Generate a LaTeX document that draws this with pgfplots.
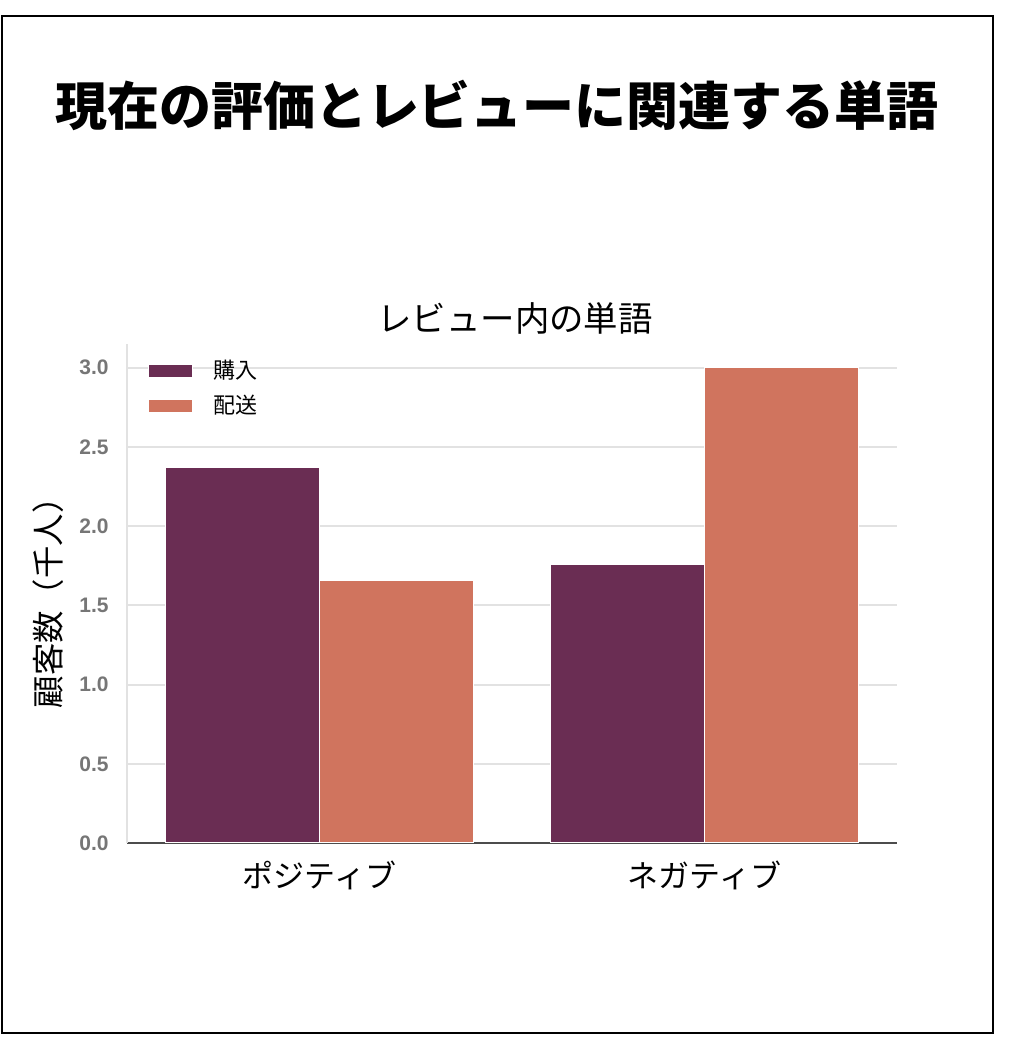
\documentclass[border=0pt]{standalone}
\usepackage{fontspec}
\usepackage{pgfplots}
\pgfplotsset{compat=1.18}
\setmainfont{Noto Sans CJK JP}
\newfontfamily\tickfont{Liberation Sans}
\definecolor{purp}{HTML}{6A2D53}
\definecolor{oran}{HTML}{D0745E}
\definecolor{gridc}{HTML}{E2E2E2}
\definecolor{tickc}{HTML}{767676}
\begin{document}
\begin{tikzpicture}
\useasboundingbox (0,0) rectangle (504pt,528pt);
\draw[line width=1pt] (1pt,520pt) rectangle (496.5pt,11.5pt);
\node[font=\fontsize{26}{30}\selectfont\bfseries] at (248.5pt,475.5pt) {現在の評価とレビューに関連する単語};
\node[font=\fontsize{17.2}{20}\selectfont] at (257.5pt,369pt) {レビュー内の単語};
\node[font=\fontsize{16.2}{18}\selectfont, rotate=90] at (24pt,230.5pt) {顧客数（千人）};
\begin{axis}[
  at={(63.5pt,106.5pt)}, anchor=south west,
  scale only axis, width=385pt, height=249.5pt,
  xmin=-0.5, xmax=1.5, ymin=0, ymax=3.15,
  axis x line*=bottom, axis y line*=left,
  x axis line style={draw=black!70, line width=1pt},
  y axis line style={draw=gridc, line width=1pt},
  major tick length=0pt,
  xtick={0,1}, xticklabels={ポジティブ,ネガティブ},
  ytick={0,0.5,1.0,1.5,2.0,2.5,3.0},
  ymajorgrids, grid style={gridc, line width=1pt},
  /pgf/number format/assume math mode=true,
  /pgf/number format/.cd, fixed, fixed zerofill, precision=1, /pgfplots/.cd,
  yticklabel style={font=\tickfont\bfseries\fontsize{10.5}{12}\selectfont, text=tickc, anchor=east, inner sep=0pt, xshift=-9pt},
  xticklabel style={font=\fontsize{15.5}{18}\selectfont, anchor=center, inner sep=0pt, yshift=-16pt},
  legend style={at={(0,1)}, anchor=north west, draw=none, fill=none, inner sep=0pt, outer sep=0pt,
    xshift=10.5pt, yshift=-4.75pt, font=\fontsize{11}{13}\selectfont,
    nodes={inner sep=0pt, minimum height=17.5pt}, column sep=0pt},
  legend cell align=left,
  legend image code/.code={\fill[#1] (0pt,-3.5pt) rectangle (22pt,3.5pt); \path (32pt,0pt);},
]
\addplot[ybar, bar width=0.4, bar shift=-0.2, fill=purp, draw=white, line width=0.6pt] coordinates {(0,2.37) (1,1.76)};
\addlegendentry{購入}
\addplot[ybar, bar width=0.4, bar shift=0.2, fill=oran, draw=white, line width=0.6pt] coordinates {(0,1.66) (1,3.00)};
\addlegendentry{配送}
\end{axis}
\end{tikzpicture}
\end{document}
